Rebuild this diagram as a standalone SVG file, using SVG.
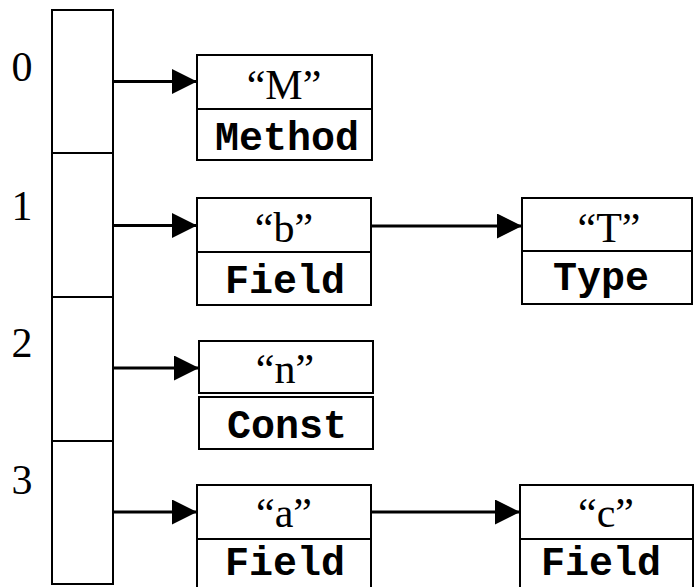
<svg xmlns="http://www.w3.org/2000/svg" width="695" height="587" viewBox="0 0 695 587">
  <style>
    .box { fill: #ffffff; stroke: #000000; stroke-width: 2; }
    .cell { fill: #ffffff; stroke: #000000; stroke-width: 2; }
    .idx { font-family: "Liberation Serif", serif; font-size: 42px; fill: #000; text-anchor: middle; }
    .name { font-family: "Liberation Serif", serif; font-size: 42px; fill: #000; text-anchor: middle; }
    .kind { font-family: "Liberation Mono", monospace; font-size: 40px; font-weight: bold; fill: #000; text-anchor: middle; }
    .conn { stroke: #000000; stroke-width: 3; fill: none; marker-end: url(#arrow); }
  </style>
  <defs>
    <marker id="arrow" viewBox="0 0 25 25" refX="25" refY="12.5" markerWidth="25" markerHeight="25" markerUnits="userSpaceOnUse" orient="auto">
      <path d="M0,0 L25,12.5 L0,25 z" fill="#000000"/>
    </marker>
  </defs>
  <rect width="695" height="587" fill="#ffffff"/>

  <g id="array">
    <rect class="cell" x="52" y="10" width="61" height="143"/>
    <rect class="cell" x="52" y="153" width="61" height="144"/>
    <rect class="cell" x="52" y="297" width="61" height="144"/>
    <rect class="cell" x="52" y="441" width="61" height="143"/>
    <text class="idx" x="22" y="81">0</text>
    <text class="idx" x="22" y="220">1</text>
    <text class="idx" x="22" y="357">2</text>
    <text class="idx" x="22" y="494">3</text>
  </g>

  <g id="connectors">
    <line class="conn" x1="113" y1="81.5" x2="197" y2="81.5"/>
    <line class="conn" x1="113" y1="225.5" x2="197" y2="225.5"/>
    <line class="conn" x1="113" y1="368" x2="199" y2="368"/>
    <line class="conn" x1="113" y1="512" x2="197" y2="512"/>
    <line class="conn" x1="371" y1="226" x2="522" y2="226"/>
    <line class="conn" x1="371" y1="512" x2="520" y2="512"/>
  </g>

  <g id="node-M">
    <rect class="box" x="197" y="55" width="175" height="54"/>
    <rect class="box" x="197" y="109" width="175" height="51"/>
    <text class="name" x="284" y="99">“M”</text>
    <text class="kind" x="287" y="150">Method</text>
  </g>

  <g id="node-b">
    <rect class="box" x="197" y="198" width="174" height="54"/>
    <rect class="box" x="197" y="252" width="174" height="53"/>
    <text class="name" x="284" y="242">“b”</text>
    <text class="kind" x="285" y="293">Field</text>
  </g>

  <g id="node-n">
    <rect class="box" x="199" y="341" width="174" height="52"/>
    <rect class="box" x="199" y="397" width="174" height="52"/>
    <text class="name" x="285" y="383">“n”</text>
    <text class="kind" x="287" y="438">Const</text>
  </g>

  <g id="node-a">
    <rect class="box" x="197" y="485" width="174" height="54"/>
    <rect class="box" x="197" y="539" width="174" height="60"/>
    <text class="name" x="284" y="527">“a”</text>
    <text class="kind" x="285" y="575">Field</text>
  </g>

  <g id="node-T">
    <rect class="box" x="522" y="198" width="170" height="53"/>
    <rect class="box" x="522" y="251" width="170" height="53"/>
    <text class="name" x="609" y="242">“T”</text>
    <text class="kind" x="601" y="290">Type</text>
  </g>

  <g id="node-c">
    <rect class="box" x="520" y="485" width="173" height="54"/>
    <rect class="box" x="520" y="539" width="173" height="60"/>
    <text class="name" x="606" y="527">“c”</text>
    <text class="kind" x="601" y="575">Field</text>
  </g>
</svg>
